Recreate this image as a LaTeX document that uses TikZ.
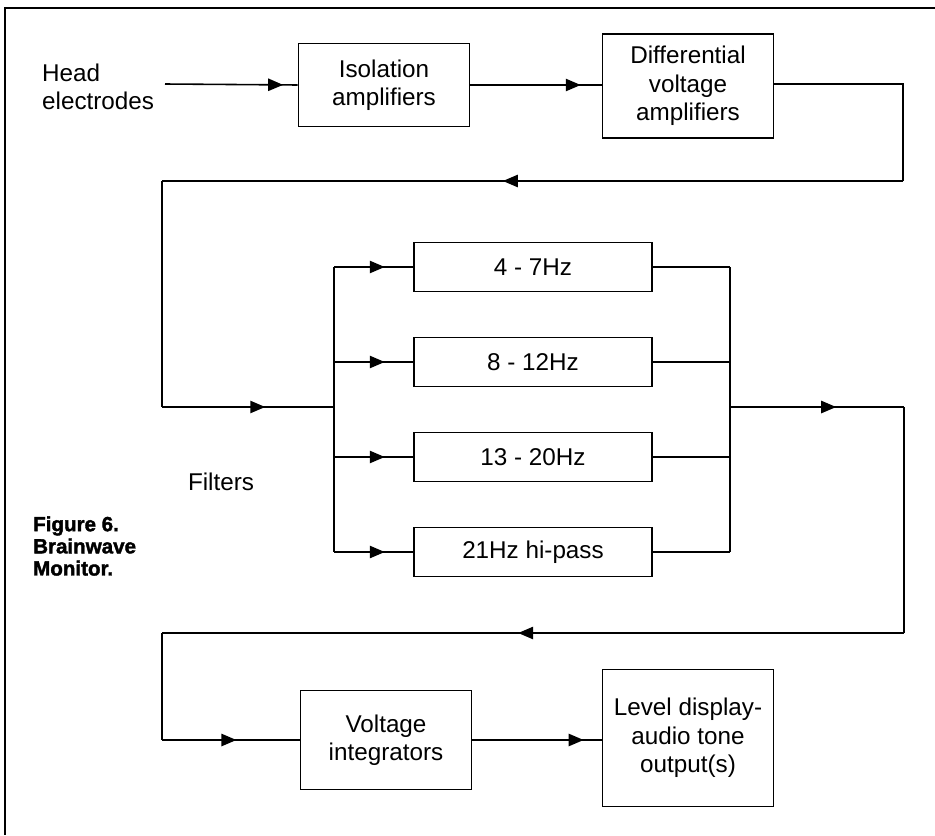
\documentclass[tikz,border=0pt]{standalone}
\usepackage{fontspec}
\setmainfont{Liberation Sans}
\newfontfamily\capfont[BoldFeatures={FakeBold=1.8}]{Liberation Sans}
\usetikzlibrary{arrows.meta,decorations.markings,positioning}

\tikzset{
  block/.style={draw, rectangle, line width=0.9pt, minimum width=3.42cm, inner sep=0pt, align=center, font=\fontsize{13.8}{16.2}\selectfont},
  filterbox/.style={draw, rectangle, line width=0.9pt, minimum width=4.76cm, minimum height=0.98cm, inner sep=0pt, font=\fontsize{13.8}{16.2}\selectfont},
  wire/.style={line width=0.9pt},
  flowarrow/.style={wire, postaction={decorate}, decoration={markings, mark=at position #1 with {\arrow{Triangle[length=8.5pt,width=7pt]}}}}
}

\begin{document}
\begin{tikzpicture}[x=0.02cm, y=-0.02cm]
\useasboundingbox (0,0) rectangle (935,835);
% frame
\draw [line width=1.6pt] (935,8) -- (5,8) -- (5,835);

% top row
\node (head) [anchor=west, align=left, font=\fontsize{13.8}{16.2}\selectfont] at (36,87) {Head\\electrodes};
\coordinate (in) at (165,84);
\node (iso) [block, minimum height=1.66cm] at (384,85) {Isolation\\amplifiers};
\node (diff) [block, minimum height=2.08cm] at (688,86) {Differential\\voltage\\amplifiers};
\draw [flowarrow=0.89] (in) -- (iso.west);
\draw [flowarrow=0.84] (iso.east) -- (iso.east -| diff.west);

% return to filter bank
\coordinate (r1) at (903,84);
\coordinate (r2) at (903,181);
\coordinate (l1) at (162,181);
\coordinate (l2) at (162,407);
\coordinate (busin) at (334,407);
\draw [wire] (diff.east |- r1) -- (r1) -- (r2);
\draw [flowarrow=0.54] (r2) -- (l1);
\draw [wire] (l1) -- (l2);
\draw [flowarrow=0.6] (l2) -- (busin);

% filters
\node (f1) [filterbox] at (533,267) {4 - 7Hz};
\node (f2) [filterbox] at (533,362) {8 - 12Hz};
\node (f3) [filterbox] at (533,457) {13 - 20Hz};
\node (f4) [filterbox] at (533,552) {21Hz hi-pass};
\node (filt) [font=\fontsize{13.8}{16.2}\selectfont] at (221,482) {Filters};
\coordinate (bustop) at (334,267);
\coordinate (busbot) at (334,552);
\coordinate (outtop) at (730,267);
\coordinate (outbot) at (730,552);
\draw [wire] (bustop) -- (busbot);
\draw [wire] (outtop) -- (outbot);
\foreach \f in {f1,f2,f3,f4}{
  \draw [flowarrow=0.64] (bustop |- \f.west) -- (\f.west);
  \draw [wire] (\f.east) -- (outtop |- \f.east);
}

% caption
\node (cap) [anchor=west, align=left, font=\capfont\bfseries\fontsize{11.7}{12.6}\selectfont] at (27,546) {Figure 6.\\Brainwave\\Monitor.};

% return to integrators
\coordinate (busout) at (730,407);
\coordinate (s1) at (904,407);
\coordinate (s2) at (904,633);
\coordinate (s3) at (162,633);
\coordinate (s4) at (162,740);
\node (integ) [block, minimum height=1.98cm] at (386,740) {Voltage\\integrators};
\node (level) [block, minimum height=2.74cm] at (688,738) {Level display-\\audio tone\\output(s)};
\draw [flowarrow=0.61] (busout) -- (s1);
\draw [wire] (s1) -- (s2);
\draw [flowarrow=0.52] (s2) -- (s3);
\draw [wire] (s3) -- (s4);
\draw [flowarrow=0.54] (s4) -- (integ.west);
\draw [flowarrow=0.86] (integ.east) -- (integ.east -| level.west);
\end{tikzpicture}
\end{document}
